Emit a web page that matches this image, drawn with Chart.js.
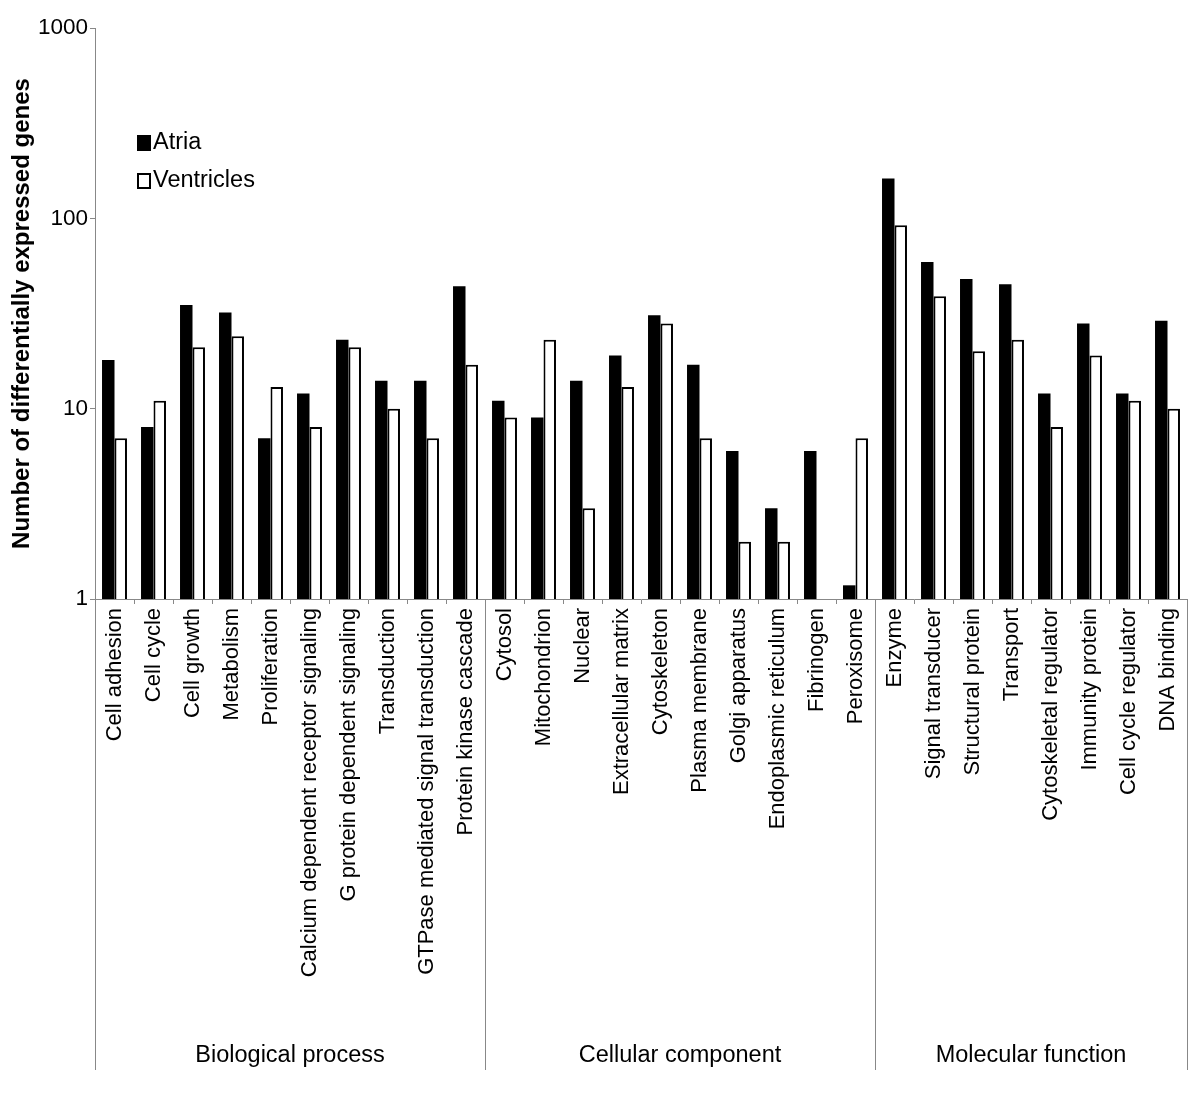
<!DOCTYPE html>
<html>
<head>
<meta charset="utf-8">
<script src="https://cdn.jsdelivr.net/npm/chart.js@4/dist/chart.umd.min.js"></script>
<style>
  body { margin: 0; background: #fff; }
</style>
</head>
<body>
<canvas id="graph" width="1200" height="1096"></canvas>
<script>
const categories = [
  "Cell adhesion", "Cell cycle", "Cell growth", "Metabolism", "Proliferation",
  "Calcium dependent receptor signaling", "G protein dependent signaling", "Transduction",
  "GTPase mediated signal transduction", "Protein kinase cascade",
  "Cytosol", "Mitochondrion", "Nuclear", "Extracellular matrix", "Cytoskeleton",
  "Plasma membrane", "Golgi apparatus", "Endoplasmic reticulum", "Fibrinogen", "Peroxisome",
  "Enzyme", "Signal transducer", "Structural protein", "Transport", "Cytoskeletal regulator",
  "Immunity protein", "Cell cycle regulator", "DNA binding"
];
const atria = [18, 8, 35, 32, 7, 12, 23, 14, 14, 44,
               11, 9, 14, 19, 31, 17, 6, 3, 6, 1.18,
               162, 59, 48, 45, 12, 28, 12, 29];
const ventricles = [7, 11, 21, 24, 13, 8, 21, 10, 7, 17,
                    9, 23, 3, 13, 28, 7, 2, 2, null, 7,
                    92, 39, 20, 23, 8, 19, 11, 10];
const groupNames = ["Biological process", "Cellular component", "Molecular function"];
const groupSizes = [10, 10, 8];
const yTicks = [1, 10, 100, 1000];

const FONT = "'Liberation Sans', Arial, sans-serif";

// group dividers under the axis, group names and the legend
const groupPlugin = {
  id: "groups",
  afterDraw(chart) {
    const ctx = chart.ctx;
    const x = chart.scales.x;
    const area = chart.chartArea;
    const catW = (x.right - x.left) / categories.length;
    let edges = [0];
    groupSizes.forEach(n => edges.push(edges[edges.length - 1] + n));
    ctx.save();
    ctx.strokeStyle = "#888";
    ctx.lineWidth = 1;
    edges.forEach(i => {
      const px = Math.round(x.left + i * catW) + 0.5;
      ctx.beginPath();
      ctx.moveTo(px, area.bottom);
      ctx.lineTo(px, 1070);
      ctx.stroke();
    });
    ctx.fillStyle = "#000";
    ctx.font = "23.5px " + FONT;
    ctx.textAlign = "center";
    ctx.textBaseline = "middle";
    groupNames.forEach((name, g) => {
      const mid = x.left + (edges[g] + edges[g + 1]) / 2 * catW;
      ctx.fillText(name, mid, 1056);
    });

    // legend
    const items = [
      { label: chart.data.datasets[0].label, fill: "#000", y: 143 },
      { label: chart.data.datasets[1].label, fill: "#fff", y: 181 }
    ];
    ctx.textAlign = "left";
    ctx.font = "23.5px " + FONT;
    items.forEach(it => {
      ctx.fillStyle = it.fill;
      ctx.fillRect(137, it.y - 8, 14, 16);
      ctx.strokeStyle = "#000";
      ctx.lineWidth = 2;
      ctx.strokeRect(138, it.y - 7, 12, 14);
      ctx.fillStyle = "#000";
      ctx.fillText(it.label, 153, it.y);
    });
    ctx.restore();
  }
};

const graph = document.getElementById("graph").getContext("2d");
const geneChart = new Chart(graph, {
  type: "bar",
  data: {
    labels: categories,
    datasets: [
      {
        label: "Atria",
        data: atria,
        backgroundColor: "#000",
        borderWidth: 0,
      },
      {
        label: "Ventricles",
        data: ventricles,
        backgroundColor: "#fff",
        borderColor: "#000",
        borderWidth: 2,
      },
    ],
  },
  options: {
    responsive: false,
    animation: false,
    datasets: {
      bar: { categoryPercentage: 0.64, barPercentage: 1.0 },
    },
    layout: {
      padding: { top: 28, right: 13, left: 0, bottom: 0 },
    },
    plugins: {
      legend: { display: false },
      tooltip: { enabled: false },
    },
    scales: {
      x: {
        afterFit: (s) => { s.height = 497; },
        ticks: {
          autoSkip: false,
          maxRotation: 90,
          minRotation: 90,
          padding: 4,
          color: "#000",
          font: { family: FONT, size: 22 },
        },
        grid: {
          offset: true,
          drawOnChartArea: false,
          tickLength: 5,
          color: "#888",
        },
        border: { color: "#888" },
      },
      y: {
        type: "logarithmic",
        min: 1,
        max: 1000,
        afterFit: (s) => { s.width = 95; },
        afterBuildTicks: (s) => { s.ticks = yTicks.map(v => ({ value: v })); },
        ticks: {
          padding: 2,
          color: "#000",
          font: { family: FONT, size: 22.5 },
          callback: (v) => String(v),
        },
        grid: {
          drawOnChartArea: false,
          tickLength: 5,
          color: "#888",
        },
        border: { color: "#888" },
        title: {
          display: true,
          text: "Number of differentially expressed genes",
          color: "#000",
          font: { family: FONT, size: 24, weight: "bold" },
          padding: { top: 8, bottom: 0 },
        },
      },
    },
  },
  plugins: [groupPlugin],
});
</script>
</body>
</html>
